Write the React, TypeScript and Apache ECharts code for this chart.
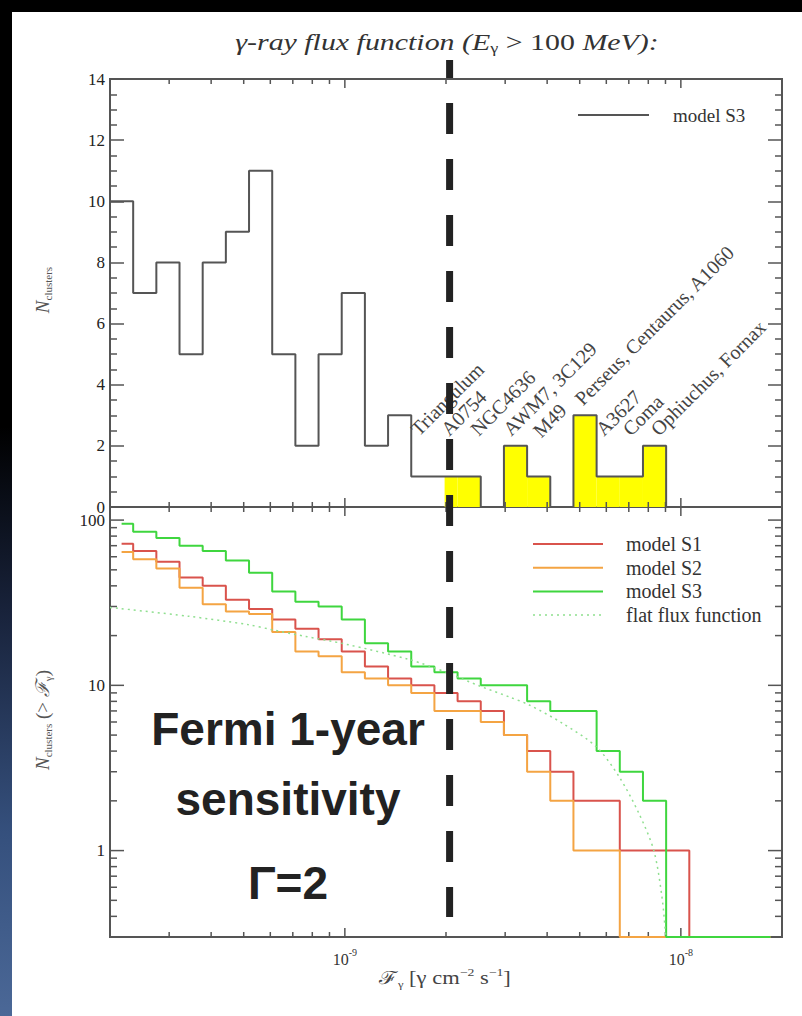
import React, { useEffect, useRef } from 'react';
import * as echarts from 'echarts';

// Flux range and logarithmic binning of the flux function
const FLUX_MIN = 2e-10;
const FLUX_MAX = 2e-8;
const BIN_COUNT = 29;
const SENSITIVITY_FLUX = 2.05e-9;
const N_MIN = 0.3;
const N_MAX = 120;

// Differential flux function, model S3 (clusters per bin)
const S3_COUNTS = [10, 7, 8, 5, 8, 9, 11, 5, 2, 5, 7, 2, 3, 1, 1, 1, 0, 2, 1, 0, 3, 1, 1, 2, 0, 0, 0, 0, 0];
// Clusters above the sensitivity limit (highlighted)
const OBSERVED_COUNTS = [0, 0, 0, 0, 0, 0, 0, 0, 0, 0, 0, 0, 0, 0, 1, 1, 0, 2, 1, 0, 3, 1, 1, 2, 0, 0, 0, 0, 0];

// Cumulative flux functions N(>F) per bin
const S1_CUMULATIVE = [72, 65, 56, 45, 40, 33, 29, 25, 22, 19, 16, 13, 11, 10, 9, 8, 7, 5, 4, 3, 2, 2, 1, 1, 1, 0, 0, 0, 0];
const S2_CUMULATIVE = [64, 58, 51, 39, 31, 28, 27, 21, 16, 15, 12, 11, 10, 9, 7, 7, 6, 5, 3, 2, 1, 1, 0, 0, 0, 0, 0, 0, 0];
const S3_CUMULATIVE = [95, 85, 78, 70, 65, 57, 48, 37, 32, 30, 25, 18, 16, 13, 12, 11, 10, 10, 8, 7, 7, 4, 3, 2, 0, 0, 0, 0, 0];

// Flat flux function
const FLAT_FLUX = [2.0e-10, 3.42e-10, 5.15e-10, 6.07e-10, 7.6e-10, 1.0e-9, 1.56e-9, 2.0e-9, 2.52e-9, 3.09e-9, 3.54e-9, 4.44e-9, 5.6e-9, 6.55e-9, 7.5e-9, 8.31e-9, 8.79e-9, 9.02e-9];
const FLAT_N = [29.6, 26.2, 23.3, 21.7, 19.8, 17.8, 14.3, 12.0, 9.9, 8.5, 7.6, 5.9, 4.25, 2.8, 1.68, 1.0, 0.52, 0.3];

// Cluster names above the histogram
const CLUSTER_NAMES = ['Triangulum', 'A0754', 'NGC4636', 'AWM7, 3C129', 'M49', 'Perseus, Centaurus, A1060', 'A3627', 'Coma', 'Ophiuchus, Fornax'];
const CLUSTER_FLUX = [1.64e-9, 2.02e-9, 2.47e-9, 3.09e-9, 3.79e-9, 5.05e-9, 5.83e-9, 7.02e-9, 8.5e-9];
const CLUSTER_LEVEL = [2.25, 2.25, 2.25, 2.25, 2.2, 3.25, 2.25, 2.25, 2.25];

// Tick values
const X_MAJOR = [1e-9, 1e-8];
const X_MINOR = [3e-10, 4e-10, 5e-10, 6e-10, 7e-10, 8e-10, 9e-10, 2e-9, 3e-9, 4e-9, 5e-9, 6e-9, 7e-9, 8e-9, 9e-9];
const Y_LOG_MAJOR = [1, 10, 100];
const Y_LOG_MINOR = [0.4, 0.5, 0.6, 0.7, 0.8, 0.9, 2, 3, 4, 5, 6, 7, 8, 9, 20, 30, 40, 50, 60, 70, 80, 90];

const LEGEND_TOP = ['model S3'];
const LEGEND_BOTTOM = ['model S1', 'model S2', 'model S3', 'flat flux function'];

const FRAME = '#555';
const RED = '#d9534c';
const ORANGE = '#f4a443';
const GREEN = '#3fd63f';
const FLAT_GREEN = '#8fdf8f';
const SERIF = '"Liberation Serif", "DejaVu Serif", serif';
const SANS_BOLD = '"Liberation Sans", Arial, sans-serif';

const binEdges = Array.from({ length: BIN_COUNT + 1 }, (_, k) => FLUX_MIN * Math.pow(FLUX_MAX / FLUX_MIN, k / BIN_COUNT));
const binCenters = Array.from({ length: BIN_COUNT }, (_, k) => Math.sqrt(binEdges[k] * binEdges[k + 1]));

const isPow10 = (v: number) => {
  const e = Math.log10(v);
  return Math.abs(e - Math.round(e)) < 1e-6;
};

const stepData = (vals: number[]) => binCenters.map((c, k) => [c, Math.max(vals[k], N_MIN)]);

export default function App() {
  const ref = useRef<HTMLDivElement>(null);

  useEffect(() => {
    if (!ref.current) return;
    const chart = echarts.init(ref.current, undefined, { renderer: 'svg' });

    const tickStyle = { stroke: FRAME, lineWidth: 1.5 };

    const xTickSeries = (xAxisIndex: number, yAxisIndex: number, yRef: number) => ({
      type: 'custom',
      xAxisIndex,
      yAxisIndex,
      silent: true,
      z: 3,
      data: [...X_MAJOR.map((v) => [v, yRef, 1]), ...X_MINOR.map((v) => [v, yRef, 0])],
      encode: { x: 0, y: 1 },
      renderItem: (params: any, api: any) => {
        const cs = params.coordSys;
        const len = api.value(2) === 1 ? 9 : 5;
        const x = api.coord([api.value(0), yRef])[0];
        return {
          type: 'group',
          children: [
            { type: 'line', shape: { x1: x, y1: cs.y, x2: x, y2: cs.y + len }, style: tickStyle },
            { type: 'line', shape: { x1: x, y1: cs.y + cs.height, x2: x, y2: cs.y + cs.height - len }, style: tickStyle },
          ],
        };
      },
    });

    const option: any = {
      animation: false,
      backgroundColor: 'transparent',
      grid: [
        { left: 110, top: 79, width: 672, height: 428, show: true, borderColor: FRAME, borderWidth: 2, backgroundColor: 'transparent' },
        { left: 110, top: 507, width: 672, height: 430, show: true, borderColor: FRAME, borderWidth: 2, backgroundColor: 'transparent' },
      ],
      xAxis: [
        {
          gridIndex: 0, type: 'log', logBase: 10, min: FLUX_MIN, max: FLUX_MAX,
          axisLine: { show: false }, axisTick: { show: false }, axisLabel: { show: false }, splitLine: { show: false },
        },
        {
          gridIndex: 1, type: 'log', logBase: 10, min: FLUX_MIN, max: FLUX_MAX,
          axisLine: { show: false }, axisTick: { show: false }, splitLine: { show: false },
          axisLabel: {
            margin: 10,
            formatter: (v: number) => (isPow10(v) ? `{b|10}{s|${Math.round(Math.log10(v))}}` : ''),
            rich: {
              b: { fontFamily: SERIF, fontSize: 16, color: '#333', verticalAlign: 'bottom', lineHeight: 20 },
              s: { fontFamily: SERIF, fontSize: 10, color: '#333', verticalAlign: 'top', lineHeight: 20 },
            },
          },
        },
      ],
      yAxis: [
        {
          gridIndex: 0, type: 'value', min: 0, max: 14, interval: 2,
          axisLine: { show: false }, splitLine: { show: false },
          axisTick: { show: true, inside: true, length: 14, lineStyle: { color: FRAME, width: 1.5 } },
          minorTick: { show: true, splitNumber: 4, length: 7, lineStyle: { color: FRAME, width: 1.5 } },
          axisLabel: { fontFamily: SERIF, fontSize: 17, color: '#222', margin: 5 },
        },
        {
          gridIndex: 0, type: 'value', min: 0, max: 14, interval: 2, position: 'right',
          axisLine: { show: false }, splitLine: { show: false },
          axisTick: { show: true, inside: true, length: 14, lineStyle: { color: FRAME, width: 1.5 } },
          minorTick: { show: true, splitNumber: 4, length: 7, lineStyle: { color: FRAME, width: 1.5 } },
          axisLabel: { show: false },
        },
        {
          gridIndex: 1, type: 'log', logBase: 10, min: N_MIN, max: N_MAX,
          axisLine: { show: false }, splitLine: { show: false }, axisTick: { show: false },
          axisLabel: {
            fontFamily: SERIF, fontSize: 17, color: '#222', margin: 5,
            formatter: (v: number) => (isPow10(v) ? String(Math.round(v)) : ''),
          },
        },
      ],
      series: [
        // highlighted clusters above the sensitivity limit
        {
          type: 'custom',
          xAxisIndex: 0,
          yAxisIndex: 0,
          silent: true,
          z: 2,
          data: OBSERVED_COUNTS.map((n, k) => [binEdges[k], n, binEdges[k + 1]]).filter((d) => d[1] > 0),
          encode: { x: 0, y: 1 },
          renderItem: (params: any, api: any) => {
            const lo = Math.max(api.value(0), SENSITIVITY_FLUX);
            const p0 = api.coord([lo, api.value(1)]);
            const p1 = api.coord([api.value(2), 0]);
            const left = api.value(0) < SENSITIVITY_FLUX ? p0[0] - 5 : p0[0];
            return { type: 'rect', shape: { x: left, y: p0[1], width: p1[0] - left, height: p1[1] - p0[1] }, style: { fill: '#ffff00' } };
          },
        },
        // model S3 differential histogram
        {
          type: 'line',
          xAxisIndex: 0,
          yAxisIndex: 0,
          step: 'end',
          showSymbol: false,
          silent: true,
          z: 3,
          lineStyle: { color: '#555', width: 2 },
          data: binEdges.map((e, k) => [e, S3_COUNTS[Math.min(k, BIN_COUNT - 1)]]),
        },
        // cluster names
        {
          type: 'custom',
          xAxisIndex: 0,
          yAxisIndex: 0,
          silent: true,
          clip: false,
          z: 4,
          data: CLUSTER_NAMES.map((_, i) => [CLUSTER_FLUX[i], CLUSTER_LEVEL[i]]),
          encode: { x: 0, y: 1 },
          renderItem: (params: any, api: any) => {
            const p = api.coord([api.value(0), api.value(1)]);
            return {
              type: 'text',
              x: p[0] + 4,
              y: p[1] + 1,
              rotation: Math.PI / 4,
              style: {
                text: CLUSTER_NAMES[params.dataIndex],
                fill: '#444',
                font: `20px ${SERIF}`,
                align: 'left',
                verticalAlign: 'bottom',
              },
            };
          },
        },
        xTickSeries(0, 0, 1),
        xTickSeries(1, 2, 1),
        // log ticks of the cumulative panel
        {
          type: 'custom',
          xAxisIndex: 1,
          yAxisIndex: 2,
          silent: true,
          z: 3,
          data: [...Y_LOG_MAJOR.map((v) => [1e-9, v, 1]), ...Y_LOG_MINOR.map((v) => [1e-9, v, 0])],
          encode: { x: 0, y: 1 },
          renderItem: (params: any, api: any) => {
            const cs = params.coordSys;
            const len = api.value(2) === 1 ? 14 : 7;
            const y = api.coord([1e-9, api.value(1)])[1];
            return {
              type: 'group',
              children: [
                { type: 'line', shape: { x1: cs.x, y1: y, x2: cs.x + len, y2: y }, style: tickStyle },
                { type: 'line', shape: { x1: cs.x + cs.width, y1: y, x2: cs.x + cs.width - len, y2: y }, style: tickStyle },
              ],
            };
          },
        },
        {
          name: 'model S1', type: 'line', xAxisIndex: 1, yAxisIndex: 2, step: 'middle', showSymbol: false, silent: true, z: 3,
          lineStyle: { color: RED, width: 2 }, data: stepData(S1_CUMULATIVE),
        },
        {
          name: 'model S2', type: 'line', xAxisIndex: 1, yAxisIndex: 2, step: 'middle', showSymbol: false, silent: true, z: 3,
          lineStyle: { color: ORANGE, width: 2 }, data: stepData(S2_CUMULATIVE),
        },
        {
          name: 'model S3', type: 'line', xAxisIndex: 1, yAxisIndex: 2, step: 'middle', showSymbol: false, silent: true, z: 3,
          lineStyle: { color: GREEN, width: 2 }, data: stepData(S3_CUMULATIVE),
        },
        {
          name: 'flat flux function', type: 'line', xAxisIndex: 1, yAxisIndex: 2, smooth: 0.3, showSymbol: false, silent: true, z: 3,
          lineStyle: { color: FLAT_GREEN, width: 1.5, type: [2, 4] }, data: FLAT_FLUX.map((f, i) => [f, FLAT_N[i]]),
        },
        // Fermi 1-year sensitivity limit
        {
          type: 'custom',
          xAxisIndex: 1,
          yAxisIndex: 2,
          silent: true,
          clip: false,
          z: 10,
          data: [[SENSITIVITY_FLUX, 1]],
          encode: { x: 0, y: 1 },
          renderItem: (params: any, api: any) => {
            const x = api.coord([api.value(0), 1])[0];
            return {
              type: 'line',
              shape: { x1: x, y1: 60, x2: x, y2: 917 },
              style: { stroke: '#222', lineWidth: 7, lineDash: [31, 25], lineDashOffset: 12.7 },
            };
          },
        },
      ],
      graphic: [
        {
          type: 'text', x: 447, y: 42, scaleX: 1.3,
          style: {
            text: '{i|γ-ray flux function (E}{sub|γ}{r| > 100 }{i|MeV):}',
            align: 'center', verticalAlign: 'middle',
            rich: {
              i: { fontFamily: SERIF, fontStyle: 'italic', fontSize: 23, fill: '#333', lineHeight: 28, verticalAlign: 'middle' },
              r: { fontFamily: SERIF, fontSize: 23, fill: '#333', lineHeight: 28, verticalAlign: 'middle' },
              sub: { fontFamily: SERIF, fontSize: 14, fill: '#333', lineHeight: 28, verticalAlign: 'bottom' },
            },
          },
        },
        {
          type: 'text', x: 42, y: 290, rotation: Math.PI / 2,
          style: {
            text: '{i|N}{s|clusters}', align: 'center', verticalAlign: 'middle',
            rich: {
              i: { fontFamily: SERIF, fontStyle: 'italic', fontSize: 19, fill: '#555', lineHeight: 22, verticalAlign: 'middle' },
              s: { fontFamily: SERIF, fontSize: 11, fill: '#555', lineHeight: 22, verticalAlign: 'bottom' },
            },
          },
        },
        {
          type: 'text', x: 42, y: 720, rotation: Math.PI / 2,
          style: {
            text: '{i|N}{s|clusters}{r| (> }{i|ℱ}{s|γ}{r|)}', align: 'center', verticalAlign: 'middle',
            rich: {
              i: { fontFamily: SERIF, fontStyle: 'italic', fontSize: 19, fill: '#555', lineHeight: 22, verticalAlign: 'middle' },
              r: { fontFamily: SERIF, fontSize: 19, fill: '#555', lineHeight: 22, verticalAlign: 'middle' },
              s: { fontFamily: SERIF, fontSize: 11, fill: '#555', lineHeight: 22, verticalAlign: 'bottom' },
            },
          },
        },
        {
          type: 'text', x: 445, y: 978, scaleX: 1.25,
          style: {
            text: '{r|ℱ}{s|γ}{r| [γ cm}{p|−2}{r| s}{p|−1}{r|]}', align: 'center', verticalAlign: 'middle',
            rich: {
              r: { fontFamily: SERIF, fontSize: 18, fill: '#444', lineHeight: 22, verticalAlign: 'middle' },
              s: { fontFamily: SERIF, fontSize: 10, fill: '#444', lineHeight: 22, verticalAlign: 'bottom' },
              p: { fontFamily: SERIF, fontSize: 11, fill: '#444', lineHeight: 22, verticalAlign: 'top' },
            },
          },
        },
        // legends
        { type: 'line', shape: { x1: 578, y1: 115, x2: 649, y2: 115 }, style: { stroke: '#555', lineWidth: 2 } },
        { type: 'text', x: 673, y: 115, style: { text: LEGEND_TOP[0], font: `19px ${SERIF}`, fill: '#333', verticalAlign: 'middle' } },
        ...LEGEND_BOTTOM.flatMap((label, i) => {
          const y = 544 + i * 23.7;
          const colors = [RED, ORANGE, GREEN, FLAT_GREEN];
          return [
            {
              type: 'line', shape: { x1: 533, y1: y, x2: 603, y2: y },
              style: { stroke: colors[i], lineWidth: i === 3 ? 1.5 : 2, lineDash: i === 3 ? [2, 4] : undefined },
            },
            { type: 'text', x: 626, y, style: { text: label, font: `20px ${SERIF}`, fill: '#333', verticalAlign: 'middle' } },
          ];
        }),
        // sensitivity annotation
        { type: 'text', x: 288, y: 752, style: { text: 'Fermi 1-year', font: `bold 46px ${SANS_BOLD}`, fill: '#222', align: 'center', verticalAlign: 'bottom' }, z: 20 },
        { type: 'text', x: 288, y: 822, style: { text: 'sensitivity', font: `bold 46px ${SANS_BOLD}`, fill: '#222', align: 'center', verticalAlign: 'bottom' }, z: 20 },
        { type: 'text', x: 288, y: 906, style: { text: 'Γ=2', font: `bold 46px ${SANS_BOLD}`, fill: '#222', align: 'center', verticalAlign: 'bottom' }, z: 20 },
      ],
    };

    chart.setOption(option);
    return () => chart.dispose();
  }, []);

  return (
    <div
      style={{
        position: 'absolute', left: 0, top: 0, width: 802, height: 1016,
        background: 'linear-gradient(180deg, #000 0%, #000 42%, #18223a 60%, #35507d 82%, #4b6897 100%)',
      }}
    >
      <div style={{ position: 'absolute', left: 12, top: 12, width: 790, height: 1004, background: '#fff' }} />
      <div ref={ref} style={{ position: 'absolute', left: 0, top: 0, width: 802, height: 1016 }} />
    </div>
  );
}
